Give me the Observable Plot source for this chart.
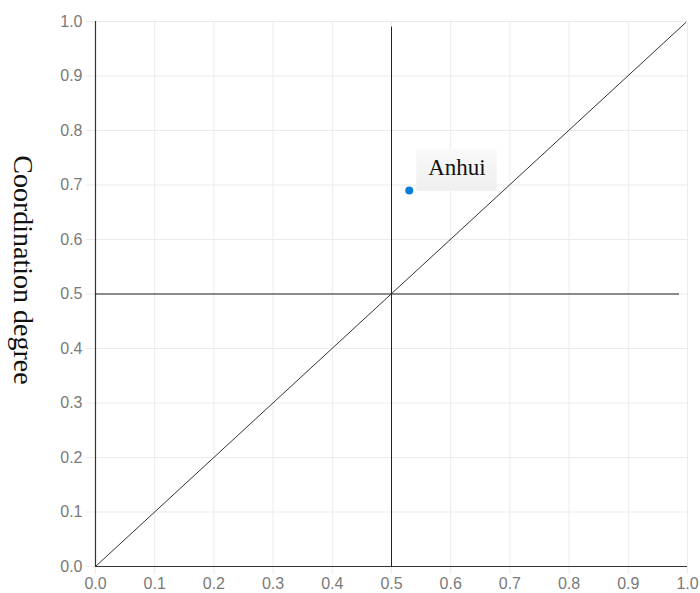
<!DOCTYPE html>
<html><head><meta charset="utf-8">
<script src="https://cdn.jsdelivr.net/npm/d3@7"></script>
<script src="https://cdn.jsdelivr.net/npm/@observablehq/plot@0.6"></script>
<style>body{margin:0;background:#fff;} #chart svg{display:block;}</style>
</head><body><div id="chart"></div>
<script>
// Data
const provinces = ["Anhui"];
const development = [0.53];
const coordination = [0.69];
const tickValues = [0, 0.1, 0.2, 0.3, 0.4, 0.5, 0.6, 0.7, 0.8, 0.9, 1.0];
const yTitle = "Coordination degree";
// Reference lines (data space)
const vLineX = [0.5, 0.5], vLineY = [0, 0.99];
const hLineX = [0, 0.985], hLineY = [0.5, 0.5];
const diagX = [0, 0.997], diagY = [0, 0.998];

const points = provinces.map((p, i) => ({name: p, x: development[i], y: coordination[i]}));
const toPts = (xs, ys) => xs.map((x, i) => ({x, y: ys[i]}));

const plot = Plot.plot({
  width: 700, height: 593,
  marginLeft: 95, marginRight: 13, marginTop: 21, marginBottom: 27,
  x: {domain: [0, 1]},
  y: {domain: [0, 1]},
  style: {fontFamily: "'Liberation Sans', Arial, sans-serif", fontSize: "16px", background: "#fff"},
  marks: [
    Plot.gridX(tickValues, {stroke: "#ebebeb", strokeOpacity: 1}),
    Plot.gridY(tickValues, {stroke: "#ebebeb", strokeOpacity: 1}),
    Plot.axisX(tickValues, {tickSize: 8, tickPadding: 3, stroke: "#ebebeb", fill: "#7a7a7a", fontWeight: "normal", tickFormat: d3.format(".1f"), label: null}),
    Plot.axisY(tickValues, {tickSize: 9, tickPadding: 4, stroke: "#ebebeb", fill: "#7a7a7a", fontWeight: "normal", tickFormat: d3.format(".1f"), label: null}),
    Plot.ruleX([0], {stroke: "#333", strokeWidth: 1.2}),
    Plot.ruleY([0], {stroke: "#333", strokeWidth: 1.2}),
    Plot.line(toPts(vLineX, vLineY), {x: "x", y: "y", stroke: "#222", strokeWidth: 1}),
    Plot.line(toPts(hLineX, hLineY), {x: "x", y: "y", stroke: "#222", strokeWidth: 1}),
    Plot.line(toPts(diagX, diagY), {x: "x", y: "y", stroke: "#333", strokeWidth: 1}),
    Plot.dot(points, {x: "x", y: "y", r: 4, fill: "#0a7dd6", stroke: "none"}),
    Plot.text(points, {x: "x", y: "y", text: "name", dx: 19, dy: -23, textAnchor: "start",
      fontFamily: "'Liberation Serif', 'Times New Roman', serif", fontSize: 23, fill: "#111"}),
    Plot.text([yTitle], {frameAnchor: "left", text: d => d, rotate: 90, textAnchor: "middle", lineAnchor: "middle",
      dx: -73, dy: -24,
      fontFamily: "'Liberation Serif', 'Times New Roman', serif", fontSize: 28, fill: "#111"})
  ]
});
document.getElementById("chart").appendChild(plot);

// Label background boxes, sized from the rendered text
const svg = d3.select(plot);
const defs = svg.insert("defs", ":first-child");
const grad = defs.append("linearGradient").attr("id", "lblgrad").attr("x1", 0).attr("y1", 0).attr("x2", 0).attr("y2", 1);
grad.append("stop").attr("offset", "0%").attr("stop-color", "#f9f9f9");
grad.append("stop").attr("offset", "100%").attr("stop-color", "#efefef");
svg.selectAll("text").each(function() {
  if (!provinces.includes(this.textContent)) return;
  const bb = this.getBBox();
  const ctm = this.getCTM();
  const g = this.parentNode;
  const gctm = g.getCTM();
  const m = gctm.inverse().multiply(ctm);
  const r = document.createElementNS("http://www.w3.org/2000/svg", "rect");
  r.setAttribute("x", m.e + bb.x - 12);
  r.setAttribute("y", m.f + bb.y - 6);
  r.setAttribute("width", bb.width + 23);
  r.setAttribute("height", bb.height + 17);
  r.setAttribute("fill", "url(#lblgrad)");
  g.insertBefore(r, g.firstChild);
});
</script>
</body></html>
